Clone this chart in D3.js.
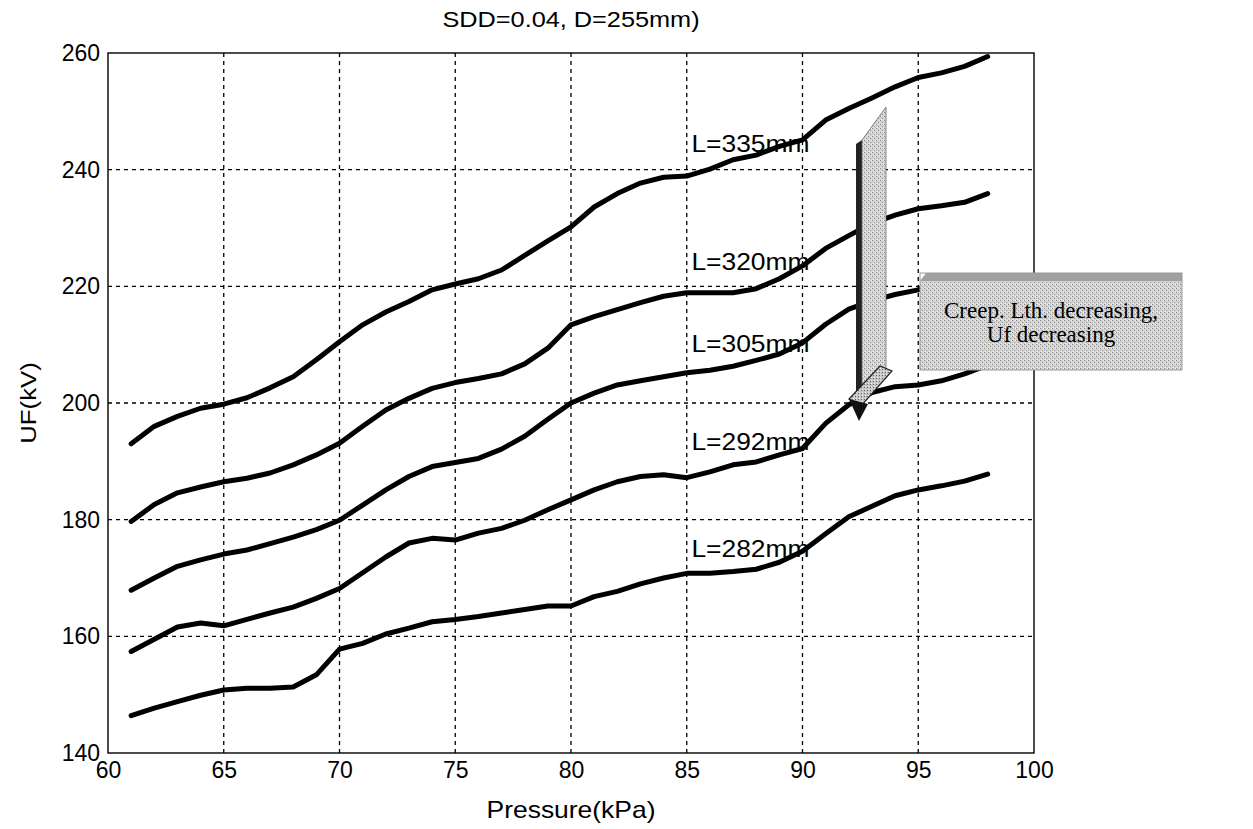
<!DOCTYPE html>
<html>
<head>
<meta charset="utf-8">
<script src="https://cdn.jsdelivr.net/npm/d3@7"></script>
<style>
  html, body { margin: 0; padding: 0; background: #fff; }
  svg { display: block; }
</style>
</head>
<body>
<svg id="chart" width="1253" height="829"></svg>
<script>
// ---- data ----
const pressure = d3.range(61, 99); // 61..98 kPa
const seriesNames = ["L=335mm", "L=320mm", "L=305mm", "L=292mm", "L=282mm"];
const uf335 = [193.0,196.0,197.7,199.1,199.8,200.9,202.6,204.5,207.4,210.5,213.4,215.6,217.4,219.4,220.4,221.3,222.8,225.3,227.8,230.2,233.6,235.9,237.7,238.7,238.9,240.1,241.7,242.5,244.0,245.1,248.5,250.5,252.3,254.2,255.8,256.6,257.7,259.4];
const uf320 = [179.7,182.6,184.6,185.6,186.5,187.1,188.0,189.4,191.1,193.1,196.0,198.8,200.8,202.5,203.5,204.2,205.0,206.7,209.4,213.4,214.8,216.0,217.2,218.3,218.9,218.9,218.9,219.6,221.3,223.5,226.5,228.7,230.8,232.2,233.3,233.8,234.4,235.9];
const uf305 = [167.9,170.0,172.0,173.1,174.1,174.8,175.9,177.0,178.3,179.9,182.5,185.1,187.4,189.1,189.8,190.5,192.1,194.3,197.2,200.0,201.7,203.1,203.8,204.5,205.2,205.6,206.3,207.3,208.4,210.3,213.5,216.1,217.5,218.6,219.4,219.9,220.4,220.9];
const uf292 = [157.4,159.5,161.6,162.3,161.8,162.9,164.0,165.0,166.5,168.2,170.9,173.6,176.0,176.8,176.5,177.7,178.5,179.9,181.7,183.4,185.1,186.5,187.4,187.7,187.2,188.2,189.4,189.9,191.1,192.2,196.5,199.7,201.8,202.8,203.1,203.8,205.0,206.5];
const uf282 = [146.4,147.7,148.8,149.9,150.8,151.1,151.1,151.3,153.4,157.8,158.8,160.4,161.4,162.5,162.9,163.4,164.0,164.6,165.2,165.2,166.8,167.7,169.0,170.0,170.8,170.8,171.1,171.5,172.7,174.6,177.6,180.5,182.3,184.1,185.1,185.8,186.6,187.8];
const labelAnchorsY = [243.0, 222.8, 208.7, 191.9, 173.6];
const labelAnchorX = 85.2;
const xTicks = [60, 65, 70, 75, 80, 85, 90, 95, 100];
const yTicks = [140, 160, 180, 200, 220, 240, 260];
const titleText = "SDD=0.04, D=255mm)";
const xLabel = "Pressure(kPa)";
const yLabel = "UF(kV)";
const calloutLines = ["Creep. Lth. decreasing,", "Uf decreasing"];

// ---- layout ----
const svg = d3.select("#chart");
const L = 108, R = 1034, T = 53, B = 753;
const x = d3.scaleLinear().domain([60, 100]).range([L, R]);
const y = d3.scaleLinear().domain([140, 260]).range([B, T]);
const sans = "'Liberation Sans', Arial, sans-serif";
const serif = "'Liberation Serif', 'Times New Roman', serif";

// stipple patterns
const defs = svg.append("defs");
const pat = defs.append("pattern").attr("id", "stip").attr("width", 4).attr("height", 4).attr("patternUnits", "userSpaceOnUse");
pat.append("rect").attr("width", 4).attr("height", 4).attr("fill", "#d2d2d2");
pat.append("rect").attr("x", 0).attr("y", 0).attr("width", 1).attr("height", 1).attr("fill", "#888");
pat.append("rect").attr("x", 2).attr("y", 2).attr("width", 1).attr("height", 1).attr("fill", "#999");
pat.append("rect").attr("x", 3).attr("y", 0).attr("width", 1).attr("height", 1).attr("fill", "#f0f0f0");
pat.append("rect").attr("x", 1).attr("y", 3).attr("width", 1).attr("height", 1).attr("fill", "#f0f0f0");
const pat2 = defs.append("pattern").attr("id", "stip2").attr("width", 3).attr("height", 3).attr("patternUnits", "userSpaceOnUse");
pat2.append("rect").attr("width", 3).attr("height", 3).attr("fill", "#c4c4c4");
pat2.append("rect").attr("x", 0).attr("y", 0).attr("width", 1).attr("height", 1).attr("fill", "#666");
pat2.append("rect").attr("x", 1).attr("y", 2).attr("width", 1).attr("height", 1).attr("fill", "#eee");

// grid
const grid = svg.append("g");
grid.selectAll(".vg").data(xTicks.slice(1, -1)).join("line")
  .attr("x1", d => x(d)).attr("x2", d => x(d)).attr("y1", T).attr("y2", B)
  .attr("stroke", "#000").attr("stroke-width", 1.3).attr("stroke-dasharray", "4,4");
grid.selectAll(".hg").data(yTicks.slice(1, -1)).join("line")
  .attr("y1", d => y(d)).attr("y2", d => y(d)).attr("x1", L).attr("x2", R)
  .attr("stroke", "#000").attr("stroke-width", 1.3).attr("stroke-dasharray", "4,4");

// axes
const xAxis = svg.append("g").attr("transform", `translate(0,${B})`)
  .call(d3.axisBottom(x).tickValues(xTicks).tickSize(0).tickPadding(9));
xAxis.select(".domain").remove();
xAxis.selectAll("text").attr("font-family", sans).attr("font-size", 23).attr("fill", "#000");
const yAxis = svg.append("g").attr("transform", `translate(${L},0)`)
  .call(d3.axisLeft(y).tickValues(yTicks).tickSize(0).tickPadding(8));
yAxis.select(".domain").remove();
yAxis.selectAll("text").attr("font-family", sans).attr("font-size", 23).attr("fill", "#000");

// frame
svg.append("rect").attr("x", L).attr("y", T).attr("width", R - L).attr("height", B - T)
  .attr("fill", "none").attr("stroke", "#000").attr("stroke-width", 1.4);

// lines
const allSeries = [uf335, uf320, uf305, uf292, uf282];
const line = d3.line().x((d, i) => x(pressure[i])).y(d => y(d));
svg.append("g").selectAll("path").data(allSeries).join("path")
  .attr("d", d => line(d)).attr("fill", "none").attr("stroke", "#000")
  .attr("stroke-width", 5).attr("stroke-linejoin", "round").attr("stroke-linecap", "round");

// series labels (slightly wide glyphs as in reference)
svg.append("g").selectAll("text").data(seriesNames).join("text")
  .attr("transform", (d, i) => `translate(${x(labelAnchorX)},${y(labelAnchorsY[i])}) scale(1.1,1)`)
  .attr("font-family", sans).attr("font-size", 24).attr("fill", "#000").text(d => d);

// title & axis labels
svg.append("text").attr("transform", `translate(${(L + R) / 2},27) scale(1.15,1)`).attr("text-anchor", "middle")
  .attr("font-family", sans).attr("font-size", 22).text(titleText);
svg.append("text").attr("transform", `translate(${(L + R) / 2},818) scale(1.15,1)`).attr("text-anchor", "middle")
  .attr("font-family", sans).attr("font-size", 23).text(xLabel);
svg.append("text").attr("transform", `translate(36,${(T + B) / 2}) rotate(-90) scale(1.12,1)`).attr("text-anchor", "middle")
  .attr("font-family", sans).attr("font-size", 23).text(yLabel);

// 3D arrow
const ar = svg.append("g");
ar.append("polygon").attr("points", "856,144 862,140 862,394 856,398").attr("fill", "#222");
ar.append("polygon").attr("points", "862,140 886,107 886,378 862,394").attr("fill", "url(#stip)").attr("stroke", "#666").attr("stroke-width", 0.8);
ar.append("polygon").attr("points", "849,399 880,366 892,371 861,406").attr("fill", "url(#stip2)").attr("stroke", "#222").attr("stroke-width", 1.2);
ar.append("polygon").attr("points", "849,399 868,404 859,421").attr("fill", "#111");

// callout box
const bx0 = 920, bx1 = 1182, by0 = 273, by1 = 370;
const cb = svg.append("g");
cb.append("polygon").attr("points", `${bx0 + 6},${by0} ${bx1},${by0} ${bx1},${by0 + 8} ${bx0},${by0 + 8}`).attr("fill", "#a0a0a0");
cb.append("rect").attr("x", bx0).attr("y", by0 + 8).attr("width", bx1 - bx0).attr("height", by1 - by0 - 8).attr("fill", "url(#stip)");
cb.append("rect").attr("x", bx0).attr("y", by0).attr("width", bx1 - bx0).attr("height", by1 - by0).attr("fill", "none").attr("stroke", "#999").attr("stroke-width", 1);
cb.selectAll("text").data(calloutLines).join("text")
  .attr("x", (bx0 + bx1) / 2).attr("y", (d, i) => 318 + i * 24).attr("text-anchor", "middle")
  .attr("font-family", serif).attr("font-size", 23).attr("fill", "#000").text(d => d);
</script>
</body>
</html>
